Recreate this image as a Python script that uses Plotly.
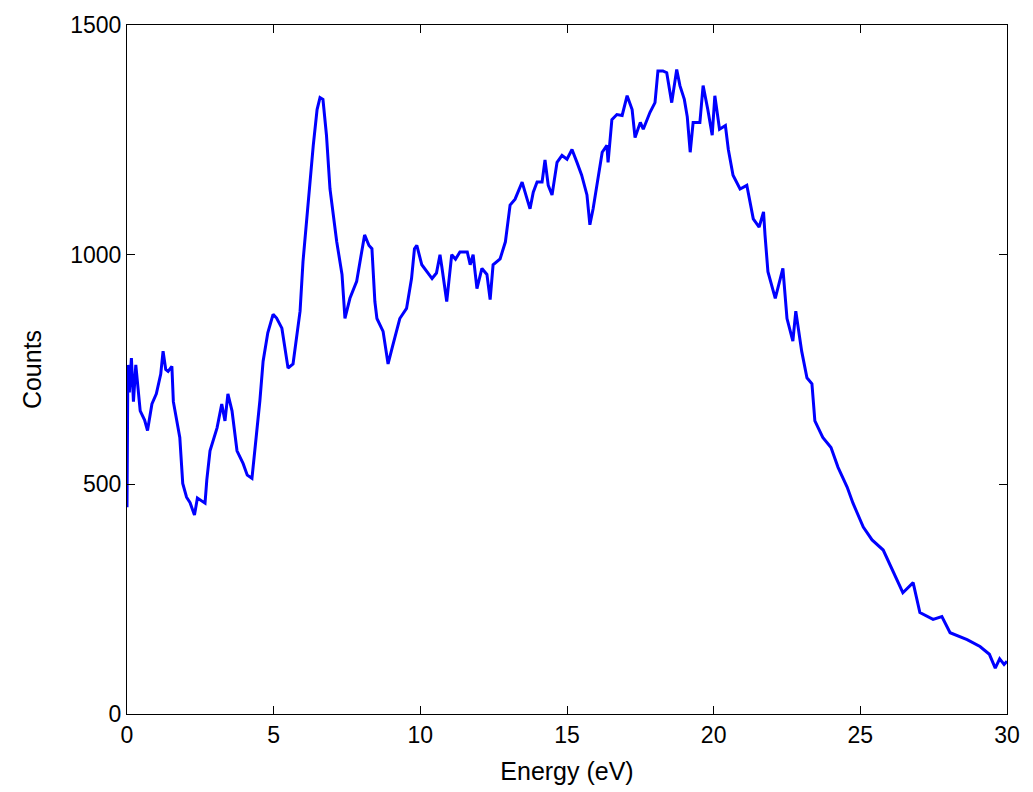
import plotly.graph_objects as go

energy = [0.0, 0.03, 0.08, 0.15, 0.22, 0.3, 0.45, 0.6, 0.7, 0.85, 1.0, 1.15, 1.23, 1.32, 1.4, 1.53, 1.58, 1.7,
          1.8, 1.9, 2.03, 2.15, 2.3, 2.4, 2.5, 2.66, 2.72, 2.83, 3.07, 3.23, 3.34, 3.44, 3.58, 3.75, 3.96, 4.1,
          4.26, 4.36, 4.53, 4.64, 4.8, 4.98, 5.1, 5.28, 5.49, 5.66, 5.9, 6.0, 6.17, 6.35, 6.48, 6.58, 6.68, 6.8,
          6.92, 7.15, 7.33, 7.43, 7.6, 7.83, 8.0, 8.1, 8.25, 8.35, 8.45, 8.52, 8.73, 8.9, 9.05, 9.2, 9.3, 9.53,
          9.7, 9.8, 9.88, 10.05, 10.2, 10.4, 10.55, 10.67, 10.73, 10.9, 11.07, 11.2, 11.35, 11.6, 11.7, 11.8,
          11.93, 12.1, 12.27, 12.38, 12.48, 12.72, 12.9, 13.06, 13.23, 13.47, 13.64, 13.74, 13.85, 13.98, 14.15,
          14.25, 14.36, 14.49, 14.66, 14.83, 15.0, 15.17, 15.34, 15.5, 15.68, 15.78, 15.89, 16.06, 16.2, 16.36,
          16.4, 16.53, 16.7, 16.88, 17.05, 17.22, 17.32, 17.5, 17.6, 17.83, 18.0, 18.1, 18.27, 18.4, 18.57,
          18.74, 18.85, 19.0, 19.1, 19.2, 19.3, 19.53, 19.64, 19.8, 19.95, 20.04, 20.2, 20.4, 20.5, 20.66, 20.9,
          21.13, 21.35, 21.55, 21.7, 21.75, 21.85, 22.1, 22.36, 22.5, 22.7, 22.8, 23.0, 23.18, 23.35, 23.45,
          23.72, 24.0, 24.24, 24.55, 24.75, 25.1, 25.4, 25.78, 26.1, 26.45, 26.8, 27.03, 27.48, 27.78, 28.06,
          28.64, 29.08, 29.4, 29.6, 29.75, 29.9, 30.0]
counts = [450, 760, 700, 775, 680, 760, 660, 640, 617, 675, 697, 740, 790, 750, 746, 757, 680, 640,
          602, 502, 472, 460, 433, 470, 465, 459, 509, 573, 623, 675, 638, 697, 660, 573, 545, 520,
          513, 573, 682, 768, 830, 870, 862, 840, 753, 762, 877, 985, 1115, 1238, 1316, 1342, 1338, 1260,
          1143, 1028, 957, 861, 905, 942, 1006, 1043, 1020, 1013, 898, 861, 833, 762, 800, 840, 861, 883,
          948, 1013, 1020, 978, 965, 948, 960, 1000, 975, 898, 1000, 990, 1006, 1006, 978, 1000,
          926, 970, 957, 902, 978, 991, 1028, 1108, 1121, 1158, 1121, 1100, 1136, 1158, 1158,
          1206, 1151, 1130, 1201, 1216, 1208, 1229, 1201, 1173, 1130, 1065, 1100, 1165, 1223, 1238,
          1201, 1294, 1305, 1303, 1346, 1316, 1255, 1288, 1273, 1310, 1331, 1400, 1400, 1396, 1331,
          1403, 1368, 1338, 1300, 1223, 1288, 1288, 1368, 1316, 1260, 1346, 1273, 1281, 1229, 1173, 1143,
          1151, 1078, 1060, 1093, 1043, 963, 905, 970, 861, 812, 877, 790, 732, 719, 638,
          602, 580, 537, 494, 459, 407, 379, 357, 314, 264, 286, 221, 206, 212, 177,
          162, 147, 130, 100, 120, 108, 115]

x_ticks = [0, 5, 10, 15, 20, 25, 30]
y_ticks = [0, 500, 1000, 1500]

FONT = "Liberation Sans, Arial, Helvetica"

fig = go.Figure()
fig.add_trace(go.Scatter(x=energy, y=counts, mode="lines",
                         line=dict(color="#0000ff", width=3), showlegend=False))

axis_common = dict(showline=True, linecolor="black", linewidth=1, mirror="ticks",
                   ticks="inside", ticklen=8, tickcolor="black", showgrid=False, zeroline=False,
                   tickfont=dict(family=FONT, size=23, color="black"))

fig.update_xaxes(range=[0, 30], tickvals=x_ticks, ticktext=[str(v) for v in x_ticks],
                 title=dict(text="Energy (eV)", font=dict(family=FONT, size=25, color="black"),
                            standoff=15),
                 **axis_common)
fig.update_yaxes(range=[0, 1500], tickvals=y_ticks, ticktext=[str(v) for v in y_ticks],
                 title=dict(text="Counts", font=dict(family=FONT, size=25, color="black"),
                            standoff=21),
                 **axis_common)

fig.update_layout(width=1033, height=792, margin=dict(l=127, r=26, t=22, b=77),
                  plot_bgcolor="white", paper_bgcolor="white")

fig.write_html("out.html")
